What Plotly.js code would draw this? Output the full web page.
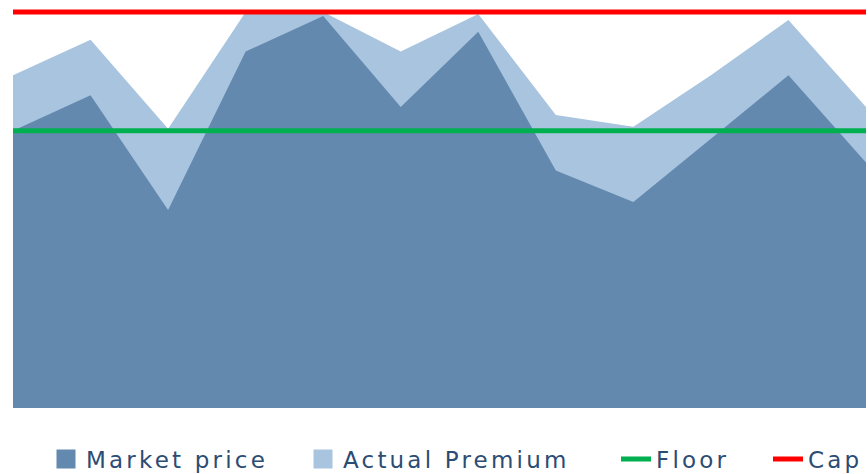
<!DOCTYPE html>
<html>
<head>
<meta charset="utf-8">
<script src="https://cdn.plot.ly/plotly-3.0.1.min.js"></script>
<style>
  html, body { margin: 0; padding: 0; background: #fff; }
  #chart { width: 868px; height: 474px; }
  svg text { letter-spacing: 3.2px !important; }
</style>
</head>
<body>
<div id="chart"></div>
<script>
// Data
const periods = [1, 2, 3, 4, 5, 6, 7, 8, 9, 10, 11, 12];
const marketPrice = [7.0, 7.9, 5.0, 9.0, 9.9, 7.6, 9.5, 6.0, 5.2, 6.8, 8.4, 6.2];
const actualPremium = [8.4, 9.3, 7.05, 10.0, 10.0, 9.0, 9.95, 7.4, 7.1, 8.4, 9.8, 7.6];
const floorLevel = [7, 7, 7, 7, 7, 7, 7, 7, 7, 7, 7, 7];
const capLevel = [10, 10, 10, 10, 10, 10, 10, 10, 10, 10, 10, 10];
const seriesNames = ['Market price', 'Actual Premium', 'Floor', 'Cap'];

const darkBlue = '#6389AE';
const lightBlue = '#A9C4DF';
const green = '#00B050';
const red = '#FF0000';

const traces = [
  // area fills (no legend of their own)
  { x: periods, y: actualPremium, type: 'scatter', mode: 'none', fill: 'tozeroy',
    fillcolor: lightBlue, showlegend: false, hoverinfo: 'skip' },
  { x: periods, y: marketPrice, type: 'scatter', mode: 'none', fill: 'tozeroy',
    fillcolor: darkBlue, showlegend: false, hoverinfo: 'skip' },
  // legend entries with square symbols
  { x: [null], y: [null], type: 'scatter', mode: 'markers', name: seriesNames[0], legend: 'legend',
    marker: { symbol: 'square', size: 16, color: darkBlue, line: { color: darkBlue, width: 3 } } },
  { x: [null], y: [null], type: 'scatter', mode: 'markers', name: seriesNames[1], legend: 'legend2',
    marker: { symbol: 'square', size: 16, color: lightBlue, line: { color: lightBlue, width: 3 } } },
  // floor & cap lines
  { x: periods, y: floorLevel, type: 'scatter', mode: 'lines', name: seriesNames[2], legend: 'legend3',
    line: { color: green, width: 5 }, hoverinfo: 'skip' },
  { x: periods, y: capLevel, type: 'scatter', mode: 'lines', name: seriesNames[3], legend: 'legend4',
    line: { color: red, width: 5 }, hoverinfo: 'skip' }
];

const W = 868, H = 474;
const legendFont = { family: 'DejaVu Sans', size: 23, color: '#2B4C73' };
function legendAt(px) {
  return {
    orientation: 'h',
    xref: 'container', yref: 'container',
    x: px / W, xanchor: 'left',
    y: 1 - 459 / H, yanchor: 'middle',
    font: legendFont,
    bgcolor: 'rgba(0,0,0,0)',
    borderwidth: 0
  };
}

const layout = {
  width: W,
  height: H,
  margin: { l: 13, r: 2, t: 5, b: 66, autoexpand: false },
  paper_bgcolor: '#ffffff',
  plot_bgcolor: '#ffffff',
  showlegend: true,
  legend: legendAt(46),
  legend2: legendAt(303),
  legend3: legendAt(616),
  legend4: legendAt(768),
  xaxis: {
    range: [1, 12],
    showgrid: false, zeroline: false, showticklabels: false, showline: false, ticks: ''
  },
  yaxis: {
    range: [0, 10.177],
    showgrid: false, zeroline: false, showticklabels: false, showline: false, ticks: ''
  }
};

Plotly.newPlot('chart', traces, layout, { displayModeBar: false, staticPlot: true });
</script>
</body>
</html>
